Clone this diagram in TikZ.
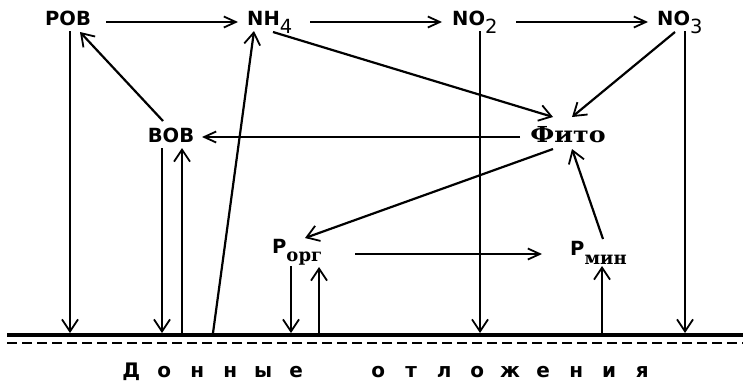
\documentclass[tikz,border=0pt]{standalone}
\usepackage{fontspec}
\usetikzlibrary{arrows.meta}
\newfontfamily\labsans{DejaVu Sans}
\newfontfamily\labserif{DejaVu Serif}
\begin{document}
\begin{tikzpicture}[x=1pt,y=-1pt,
  lab/.style={inner sep=0pt,font=\labsans\bfseries\fontsize{19.5}{22}\selectfont},
  fito/.style={inner sep=0pt,font=\labserif\bfseries\fontsize{22}{24}\selectfont},
  ln/.style={line width=2.2pt},
  arr/.style={ln,-{Straight Barb[length=12pt,width=16pt,line width=1.8pt]}},
  harr/.style={ln,-{Straight Barb[length=12pt,width=11pt,line width=1.8pt]}}]
\useasboundingbox (0,0) rectangle (743,381);
\newcommand{\sub}[1]{\raisebox{-8pt}{\labsans\mdseries #1}}
\newcommand{\psub}[2]{\raisebox{#1}{\labserif\bfseries\fontsize{18}{19}\selectfont #2}}
% nodes
\node[lab,anchor=base] (ROV) at (68,25) {РОВ};
\node[lab,anchor=base west] (NH4) at (247,25) {NH\sub{4}};
\node[lab,anchor=base west] (NO2) at (452,25) {NO\sub{2}};
\node[lab,anchor=base west] (NO3) at (657,25) {NO\sub{3}};
\node[lab,anchor=base] (VOV) at (171,142) {ВОВ};
\node[fito,anchor=base] (FITO) at (568,142) {\scalebox{1.15}[1]{Фито}};
\node[lab,anchor=base west] (PORG) at (272,253) {Р\psub{-8pt}{орг}};
\node[lab,anchor=base west] (PMIN) at (570,255) {Р\psub{-9pt}{мин}};
\node[inner sep=0pt,anchor=base west,font=\labsans\bfseries\fontsize{20}{22}\selectfont] (SED) at (114.5,377)
  {\makebox[33pt]{Д}\makebox[33pt]{о}\makebox[33pt]{н}\makebox[33pt]{н}\makebox[33pt]{ы}\makebox[33pt]{е}\hspace{49pt}\makebox[33pt]{о}\makebox[33pt]{т}\makebox[33pt]{л}\makebox[33pt]{о}\makebox[33pt]{ж}\makebox[33pt]{е}\makebox[33pt]{н}\makebox[33pt]{и}\makebox[33pt]{я}};
% ground
\coordinate (GL) at (7,335);
\coordinate (GR) at (743,335);
\coordinate (DL) at (7,343);
\coordinate (DR) at (743,343);
\draw[line width=4.5pt] (GL) -- (GR);
\draw[line width=2.2pt,dash pattern=on 10pt off 5pt] (DL) -- (DR);
\coordinate (g1) at (70,333);
\coordinate (g2) at (162,333);
\coordinate (g3) at (182,333);
\coordinate (g4) at (213,333);
\coordinate (g5) at (291,333);
\coordinate (g6) at (319,333);
\coordinate (g7) at (480,333);
\coordinate (g8) at (602,333);
\coordinate (g9) at (685,333);
% top row
\draw[harr] ([xshift=38pt,yshift=3pt]ROV.base) -- ([xshift=-9pt,yshift=3pt]NH4.base west);
\draw[harr] ([xshift=63pt,yshift=3pt]NH4.base west) -- ([xshift=-10pt,yshift=3pt]NO2.base west);
\draw[harr] ([xshift=64pt,yshift=3pt]NO2.base west) -- ([xshift=-9pt,yshift=3pt]NO3.base west);
% downs
\draw[arr] ([xshift=2pt,yshift=-6pt]ROV.base) -- (g1);
\draw[arr] ([xshift=28pt,yshift=-6pt]NO2.base west) -- (g7);
\draw[arr] ([xshift=28pt,yshift=-6pt]NO3.base west) -- (g9);
\draw[arr] ([xshift=-9pt,yshift=-6pt]VOV.base) -- (g2);
\draw[arr] ([xshift=19pt,yshift=-13pt]PORG.base west) -- (g5);
% ups
\draw[arr] (g3) -- ([xshift=11pt,yshift=-6pt]VOV.base);
\draw[arr] (g4) -- ([xshift=7pt,yshift=-6pt]NH4.base west);
\draw[arr] (g6) -- ([xshift=47pt,yshift=-14pt]PORG.base west);
\draw[arr] (g8) -- ([xshift=32pt,yshift=-11pt]PMIN.base west);
% diagonals
\draw[arr] ([xshift=-8pt,yshift=21pt]VOV.base) -- ([xshift=12pt,yshift=-7pt]ROV.base);
\draw[arr] ([xshift=26pt,yshift=-7pt]NH4.base west) -- ([xshift=-15pt,yshift=25pt]FITO.base);
\draw[arr] ([xshift=18pt,yshift=-7pt]NO3.base west) -- ([xshift=4pt,yshift=25pt]FITO.base);
\draw[harr] ([xshift=-48pt,yshift=5pt]FITO.base) -- ([xshift=31pt,yshift=5pt]VOV.base);
\draw[arr] ([xshift=-15pt,yshift=-7pt]FITO.base) -- ([xshift=33pt,yshift=15pt]PORG.base west);
\draw[arr] ([xshift=33pt,yshift=16pt]PMIN.base west) -- ([xshift=4pt,yshift=-7pt]FITO.base);
\draw[harr] ([xshift=83pt,yshift=-1pt]PORG.base west) -- ([xshift=-28pt,yshift=1pt]PMIN.base west);
\end{tikzpicture}
\end{document}
